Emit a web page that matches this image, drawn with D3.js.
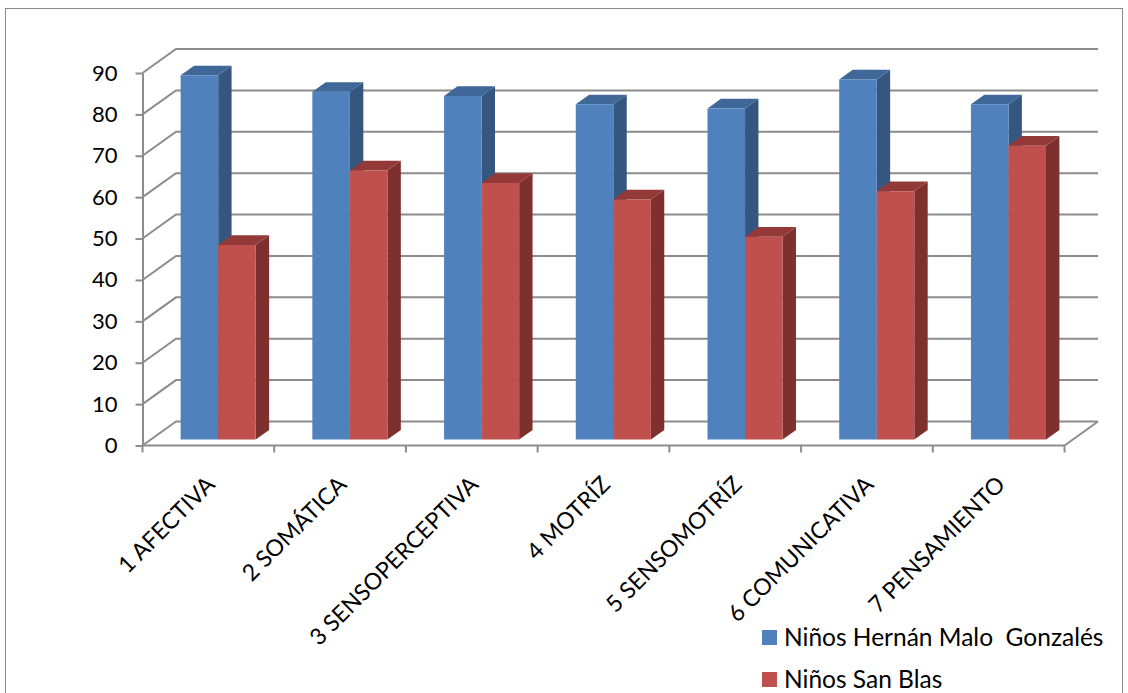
<!DOCTYPE html>
<html>
<head>
<meta charset="utf-8">
<script src="https://cdn.jsdelivr.net/npm/d3@7"></script>
<style>
  body { margin: 0; background: #fff; }
  svg text { font-family: Lato, "Open Sans", sans-serif; fill: #000; }
</style>
</head>
<body>
<div id="chart"></div>
<script>
var categories = ["1 AFECTIVA", "2 SOMÁTICA", "3 SENSOPERCEPTIVA", "4 MOTRÍZ",
                  "5 SENSOMOTRÍZ", "6 COMUNICATIVA", "7 PENSAMIENTO"];
var seriesNames = ["Niños Hernán Malo  Gonzalés", "Niños San Blas"];
var hernanMalo = [88, 84, 83, 81, 80, 87, 81];
var sanBlas = [47, 65, 62, 58, 49, 60, 71];
var yTicks = [0, 10, 20, 30, 40, 50, 60, 70, 80, 90];

var width = 1128, height = 693;
var gray = "#8c8c8c";
var DX = 33.5, DY = -24;   // depth of the floor / walls
var faces = [
  { front: "#4f81bd", side: "#34567f", top: "#3f6797" },
  { front: "#c0504d", side: "#7e302e", top: "#933a38" }
];

var svg = d3.select("#chart").append("svg")
  .attr("width", width)
  .attr("height", height);

// chart border
svg.append("rect")
  .attr("x", 5.5).attr("y", 8.5)
  .attr("width", 1117).attr("height", 700)
  .attr("fill", "none").attr("stroke", gray).attr("stroke-width", 1);

var x = d3.scaleBand().domain(categories).range([142.5, 1064.5]).padding(0);
var bw = x.bandwidth();
var xs = d3.scaleBand().domain(seriesNames).range([bw * 0.226, bw * 0.796]);
var y = d3.scaleLinear().domain([0, 90]).range([445.5, 73]);

function proj(px, v, z) {
  return [px + z * DX, y(v) + z * DY];
}

var grid = svg.append("g").attr("stroke", gray).attr("stroke-width", 2).attr("fill", "none");

// back wall gridlines + left wall diagonals
yTicks.forEach(function (t) {
  var a = proj(x.range()[0], t, 1), b = proj(x.range()[1], t, 1), f = proj(x.range()[0], t, 0);
  grid.append("path").attr("d", "M" + f + "L" + a + "L" + b);
});

// floor
var fl = [proj(x.range()[0], 0, 0), proj(x.range()[1], 0, 0), proj(x.range()[1], 0, 1)];
grid.append("path").attr("d", "M" + fl[0] + "L" + fl[1] + "L" + fl[2]);

// y axis
var yAxis = svg.append("g")
  .attr("transform", "translate(" + x.range()[0] + ",0)")
  .call(d3.axisLeft(y).tickValues(yTicks).tickSize(7).tickSizeOuter(0).tickPadding(18));
yAxis.select(".domain").attr("stroke", gray).attr("stroke-width", 2);
yAxis.selectAll(".tick line").attr("stroke", gray).attr("stroke-width", 2);
yAxis.selectAll(".tick text").style("font-size", "22px").attr("font-family", null);

// x ticks at band edges
var edges = categories.map(function (c) { return x(c); }).concat([x.range()[1]]);
grid.selectAll(null).data(edges).enter().append("line")
  .attr("x1", function (d) { return d; }).attr("x2", function (d) { return d; })
  .attr("y1", y(0)).attr("y2", y(0) + 7);

// bars
var bars = svg.append("g");
var z0 = 0.25, z1 = 0.65;
categories.forEach(function (c, i) {
  [hernanMalo[i], sanBlas[i]].forEach(function (v, s) {
    var l = x(c) + xs(seriesNames[s]), r = l + xs.bandwidth();
    var g = bars.append("g");
    var fr = [proj(l, 0, z0), proj(r, 0, z0), proj(r, v, z0), proj(l, v, z0)];
    var sd = [proj(r, 0, z0), proj(r, 0, z1), proj(r, v, z1), proj(r, v, z0)];
    var tp = [proj(l, v, z0), proj(r, v, z0), proj(r, v, z1), proj(l, v, z1)];
    g.append("path").attr("d", "M" + sd.join("L") + "Z").attr("fill", faces[s].side);
    g.append("path").attr("d", "M" + tp.join("L") + "Z").attr("fill", faces[s].top);
    g.append("path").attr("d", "M" + fr.join("L") + "Z").attr("fill", faces[s].front);
  });
});

// category labels
svg.append("g").selectAll("text").data(categories).enter().append("text")
  .attr("transform", function (d) {
    return "translate(" + (x(d) + bw / 2 + 8) + "," + 486 + ") rotate(-45)";
  })
  .attr("text-anchor", "end")
  .style("font-size", "23px")
  .text(function (d) { return d; });

// legend
var legend = svg.append("g").selectAll("g").data(seriesNames).enter().append("g")
  .attr("transform", function (d, i) { return "translate(762," + (630 + i * 42) + ")"; });
legend.append("rect").attr("width", 15).attr("height", 15)
  .attr("fill", function (d, i) { return faces[i].front; });
legend.append("text").attr("x", 22).attr("y", 16)
  .style("font-size", "24.5px")
  .style("white-space", "pre")
  .text(function (d) { return d; });
</script>
</body>
</html>
